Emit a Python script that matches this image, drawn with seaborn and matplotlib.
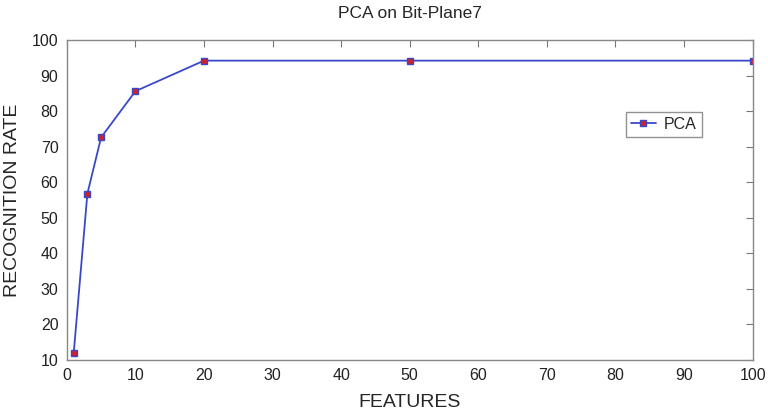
import matplotlib
matplotlib.use('Agg')
import matplotlib.pyplot as plt
import pandas as pd
import seaborn as sns

# values
features = [1, 3, 5, 10, 20, 50, 100]
recognition = [11.8, 56.8, 72.6, 85.6, 94.2, 94.2, 94.2]
x_ticks = list(range(0, 101, 10))
y_ticks = list(range(10, 101, 10))

df = pd.DataFrame({'FEATURES': features, 'RATE': recognition, 'method': 'PCA'})

sns.set_style('white')
plt.rcParams['font.family'] = ['Liberation Sans', 'DejaVu Sans']

fig = plt.figure(figsize=(7.68, 4.17), dpi=100)
ax = fig.add_axes([0.087, 0.137, 0.893, 0.767])

sns.lineplot(data=df, x='FEATURES', y='RATE', hue='method', palette=['#3a48c8'],
             marker='s', markersize=5, markerfacecolor='#d0202a',
             markeredgecolor='#3a48c8', markeredgewidth=1.0, linewidth=1.3, ax=ax)

ax.set_xlim(0, 100)
ax.set_ylim(10, 100)
ax.set_xticks(x_ticks)
ax.set_yticks(y_ticks)
ax.tick_params(direction='in', top=True, right=True, length=5, color='#777777',
               labelsize=11.5, pad=6, labelcolor='#222222')
for s in ax.spines.values():
    s.set_color('#888888')
    s.set_linewidth(1.0)

ax.set_title('PCA on Bit-Plane7', fontsize=12.5, pad=16)
ax.set_xlabel('FEATURES', fontsize=14, labelpad=8)
ax.set_ylabel('RECOGNITION RATE', fontsize=14, labelpad=8)

leg = ax.legend(loc='upper left', bbox_to_anchor=(0.815, 0.775), fontsize=11.5,
                frameon=True, fancybox=False, handlelength=1.6, handletextpad=0.5,
                borderpad=0.3, borderaxespad=0)
leg.get_frame().set_edgecolor('#777777')
leg.get_frame().set_linewidth(1.0)

fig.savefig('out.png', dpi=100)
